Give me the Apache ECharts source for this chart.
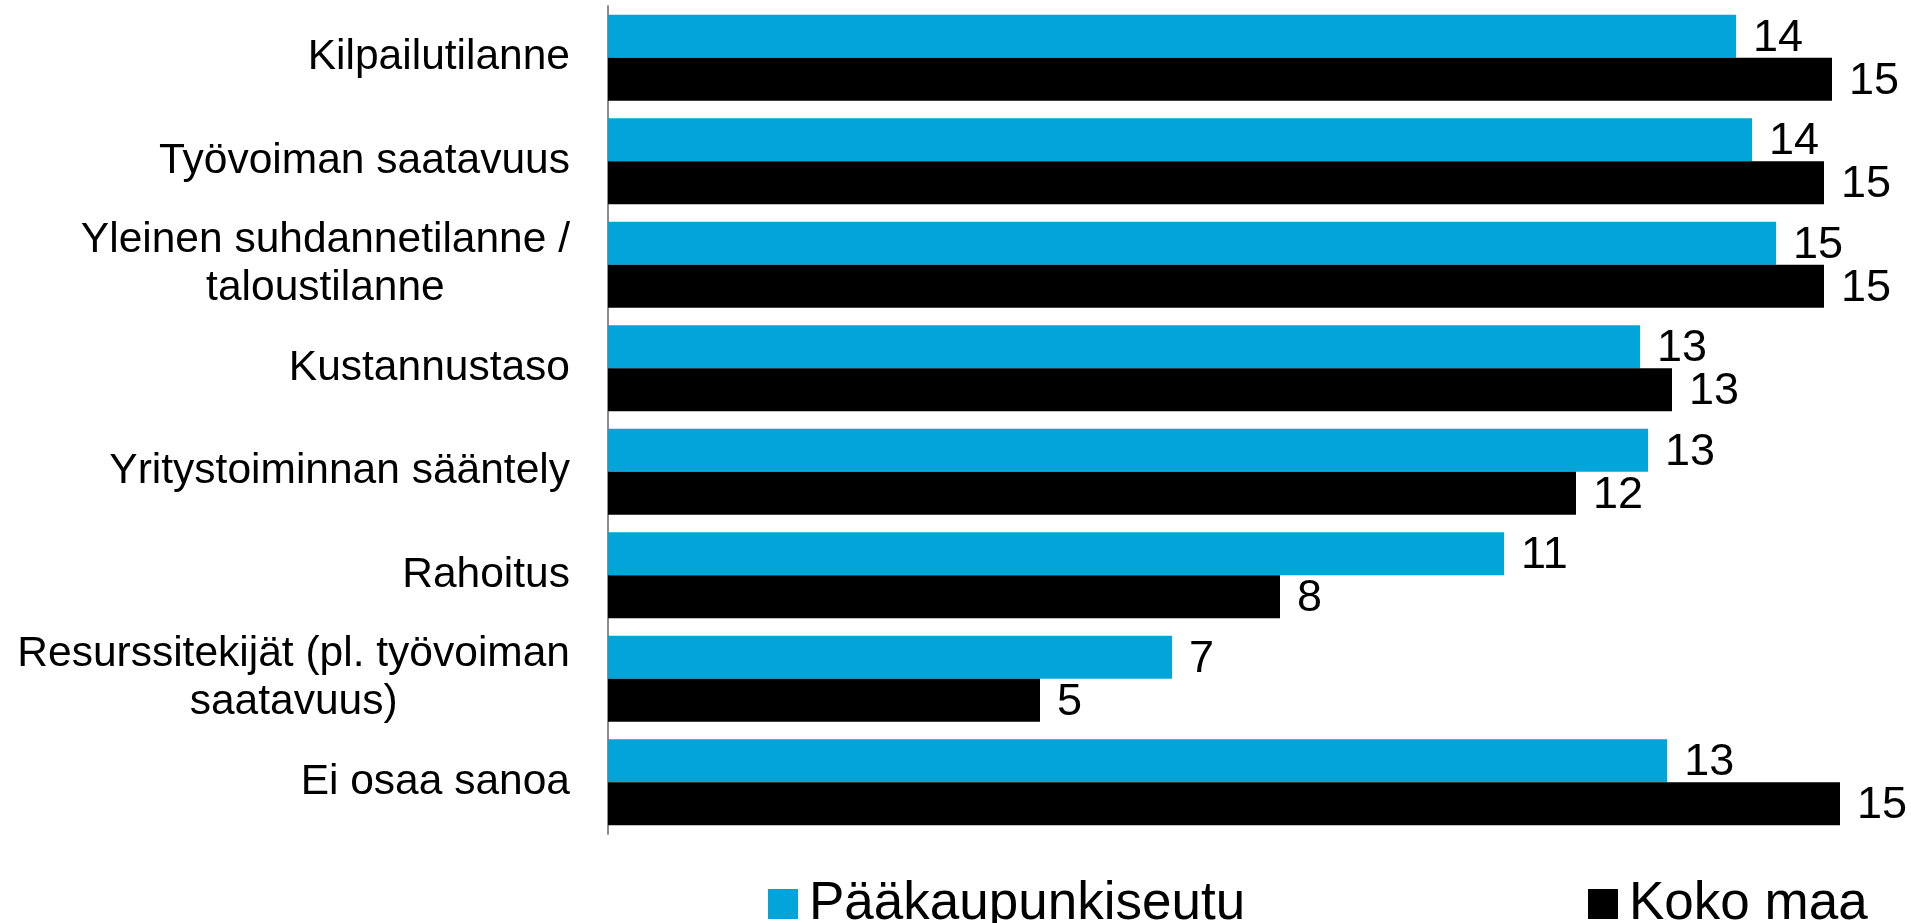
<!DOCTYPE html>
<html>
<head>
<meta charset="utf-8">
<script src="https://cdn.jsdelivr.net/npm/echarts@6/dist/echarts.min.js"></script>
<style>
html,body{margin:0;padding:0;background:#fff;}
#chart{width:1911px;height:923px;}
</style>
</head>
<body>
<div id="chart"></div>
<script>
const categories = [
  'Kilpailutilanne',
  'Työvoiman saatavuus',
  'Yleinen suhdannetilanne /\ntaloustilanne',
  'Kustannustaso',
  'Yritystoiminnan sääntely',
  'Rahoitus',
  'Resurssitekijät (pl. työvoiman\nsaatavuus)',
  'Ei osaa sanoa'
];
const seriesNames = ['Pääkaupunkiseutu', 'Koko maa'];
const capitalRegion = [14.1, 14.3, 14.6, 12.9, 13.0, 11.2, 7.05, 13.24];
const wholeCountry = [15.3, 15.2, 15.2, 13.3, 12.1, 8.4, 5.4, 15.4];

const FONT = '"Liberation Sans", Arial, sans-serif';
const chart = echarts.init(document.getElementById('chart'));

const valueLabel = {
  show: true,
  position: 'right',
  distance: 17,
  offset: [0, 2],
  color: '#000',
  fontFamily: FONT,
  fontSize: 45,
  formatter: p => Math.round(p.value)
};

const legendText = { fontFamily: FONT, fontSize: 53, color: '#000', lineHeight: 56, padding: [0, 0, 0, 6] };

chart.setOption({
  animation: false,
  backgroundColor: '#fff',
  grid: { left: 608, top: 6, width: 1280, height: 828, containLabel: false },
  xAxis: {
    type: 'value', min: 0, max: 16, show: false,
    splitLine: { show: false }
  },
  yAxis: {
    type: 'category',
    data: categories,
    inverse: true,
    axisLine: { show: true, lineStyle: { color: '#8c8c8c', width: 2 } },
    axisTick: { show: false },
    axisLabel: {
      margin: 38,
      fontFamily: FONT,
      fontSize: 42,
      lineHeight: 48,
      color: '#000',
      align: 'right',
      formatter: v => v.split('\n').map(s => '{c|' + s + '}').join('\n'),
      rich: { c: { align: 'center', fontFamily: FONT, fontSize: 42.5, lineHeight: 48, color: '#000' } }
    }
  },
  legend: [
    {
      data: [seriesNames[0]],
      left: 763, top: 871,
      itemWidth: 30, itemHeight: 30, icon: 'rect',
      textStyle: legendText
    },
    {
      data: [seriesNames[1]],
      left: 1583, top: 871,
      itemWidth: 30, itemHeight: 30, icon: 'rect',
      textStyle: legendText
    }
  ],
  series: [
    {
      name: seriesNames[0], type: 'bar', data: capitalRegion,
      itemStyle: { color: '#02A4D9' },
      barGap: '0%', barCategoryGap: '16.8%',
      label: valueLabel
    },
    {
      name: seriesNames[1], type: 'bar', data: wholeCountry,
      itemStyle: { color: '#000000' },
      barGap: '0%', barCategoryGap: '16.8%',
      label: valueLabel
    }
  ]
});
</script>
</body>
</html>
